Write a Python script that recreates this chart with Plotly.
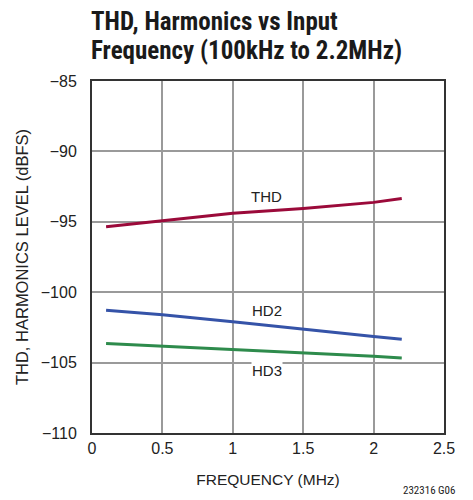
import plotly.graph_objects as go

freq = [0.1, 0.5, 1.0, 1.5, 2.0, 2.2]
thd = [-95.35, -94.93, -94.4, -94.05, -93.62, -93.34]
hd2 = [-101.28, -101.6, -102.1, -102.65, -103.15, -103.34]
hd3 = [-103.65, -103.83, -104.08, -104.31, -104.55, -104.67]

labels = ["THD", "HD2", "HD3"]
label_x = [1.24, 1.24, 1.24]
label_y = [-93.2, -101.3, -105.55]

x_ticks = [0, 0.5, 1, 1.5, 2, 2.5]
x_ticktext = ["0", "0.5", "1", "1.5", "2", "2.5"]
y_ticks = [-110, -105, -100, -95, -90, -85]

title_lines = ["THD, Harmonics vs Input", "Frequency (100kHz to 2.2MHz)"]

NARROW = "Roboto Condensed, Liberation Sans Narrow, sans-serif"
FONT = "Liberation Sans, Arial, sans-serif"

fig = go.Figure()
fig.add_trace(go.Scatter(x=freq, y=thd, mode="lines", line=dict(color="#9b0a3a", width=3), showlegend=False))
fig.add_trace(go.Scatter(x=freq, y=hd2, mode="lines", line=dict(color="#3553a8", width=3), showlegend=False))
fig.add_trace(go.Scatter(x=freq, y=hd3, mode="lines", line=dict(color="#2e8b4c", width=3), showlegend=False))

for t, xx, yy in zip(labels, label_x, label_y):
    fig.add_annotation(x=xx, y=yy, text=t, showarrow=False,
                       font=dict(family=FONT, size=15, color="#222"),
                       bgcolor="white" if t == "HD3" else "rgba(0,0,0,0)",
                       borderpad=0)

# title lines
for line, shift in zip(title_lines, [59.5, 31.0]):
    fig.add_annotation(x=0, y=1, xref="paper", yref="paper", xanchor="left", yanchor="middle",
                       xshift=-2, yshift=shift, text="<b>" + line + "</b>", showarrow=False,
                       borderpad=0,
                       font=dict(family=NARROW, size=25, color="#1a1a1a"))

fig.add_annotation(x=1, y=0, xref="paper", yref="paper", xanchor="right", yanchor="middle",
                   xshift=13, yshift=-57, text="232316 G06", showarrow=False,
                   font=dict(family=NARROW, size=11, color="#222"))

fig.update_layout(
    width=465, height=492,
    margin=dict(l=84, r=29, t=73, b=67),
    paper_bgcolor="white", plot_bgcolor="white",
    font=dict(family=FONT, size=16, color="#222"),
    xaxis=dict(range=[0, 2.5], tickvals=x_ticks, ticktext=x_ticktext,
               showgrid=True, gridcolor="#9a9a9a", gridwidth=1.5,
               showline=True, linecolor="#333", linewidth=2, mirror=True,
               zeroline=False, ticks="", ticklabelstandoff=0,
               tickfont=dict(family=FONT, size=16),
               title=dict(text="FREQUENCY (MHz)", standoff=18,
                          font=dict(family=FONT, size=15.5))),
    yaxis=dict(range=[-110, -85], tickvals=y_ticks,
               showgrid=True, gridcolor="#9a9a9a", gridwidth=1.5,
               showline=True, linecolor="#333", linewidth=2, mirror=True,
               zeroline=False, ticks="", ticklabelstandoff=10,
               tickfont=dict(family=FONT, size=16),
               title=dict(text="THD, HARMONICS LEVEL (dBFS)", standoff=8,
                          font=dict(family=FONT, size=16.5))),
)

fig.write_html("out.html")
